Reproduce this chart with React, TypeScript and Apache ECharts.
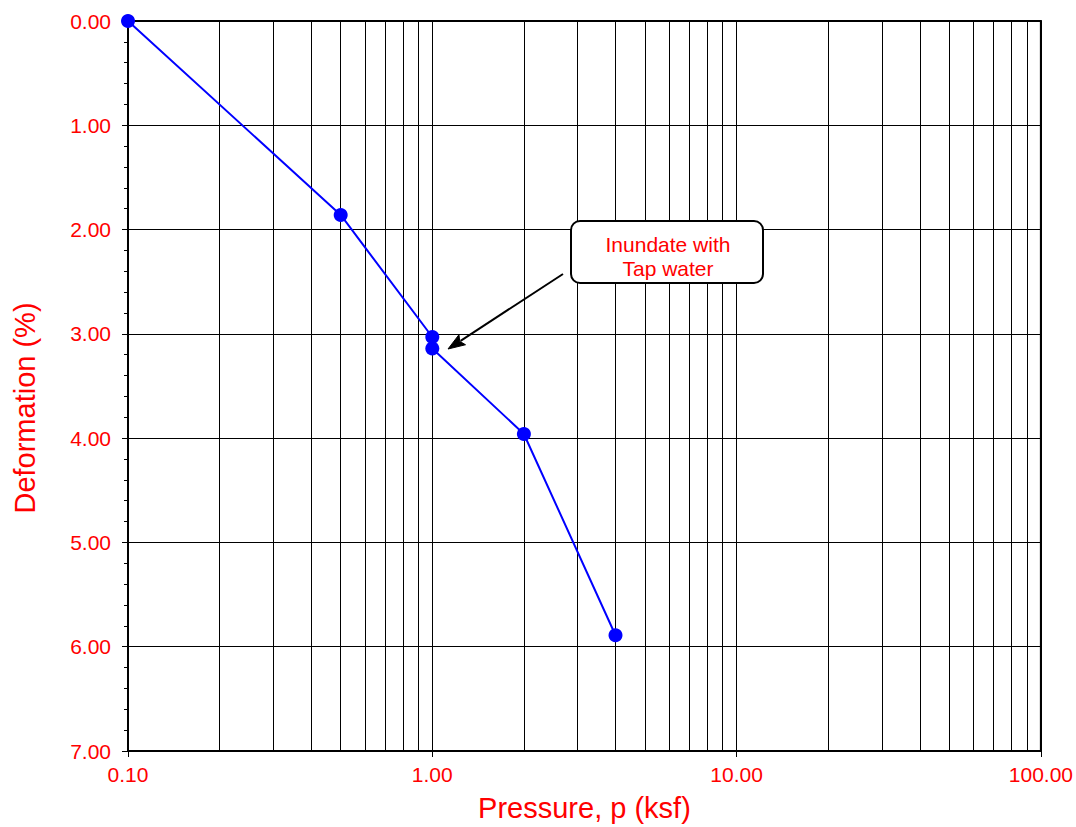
import React, { useEffect, useRef } from "react";
import * as echarts from "echarts";

// Consolidation test: pressure (ksf) vs deformation (%)
const pressure = [0.1, 0.5, 1.0, 1.0, 2.0, 4.0];
const deformation = [0.0, 1.86, 3.03, 3.14, 3.96, 5.89];

// Intermediate log-grid lines (2..9 within each decade)
const minorPressures = [
  0.2, 0.3, 0.4, 0.5, 0.6, 0.7, 0.8, 0.9,
  2, 3, 4, 5, 6, 7, 8, 9,
  20, 30, 40, 50, 60, 70, 80, 90,
];

const noteLines = ["Inundate with", "Tap water"];
const yTitle = "Deformation (%)";

const FONT = "'Liberation Sans', Arial, Helvetica, sans-serif";
const RED = "#ff0000";

export default function App() {
  const ref = useRef<HTMLDivElement>(null);

  useEffect(() => {
    if (!ref.current) return;
    const chart = echarts.init(ref.current, undefined, { renderer: "svg" });

    // Arrow from note box to the inundation point
    const tail = [563, 274];
    const tip = [448, 349];
    const dx = tail[0] - tip[0];
    const dy = tail[1] - tip[1];
    const len = Math.sqrt(dx * dx + dy * dy);
    const ux = dx / len;
    const uy = dy / len;
    const headLen = 17;
    const headW = 6;
    const bx = tip[0] + ux * headLen;
    const by = tip[1] + uy * headLen;
    const px = -uy;
    const py = ux;

    chart.setOption({
      animation: false,
      backgroundColor: "#ffffff",
      textStyle: { fontFamily: FONT },
      grid: {
        left: 128,
        right: 34,
        top: 21,
        bottom: 75,
        show: true,
        borderColor: "#000",
        borderWidth: 2,
        backgroundColor: "transparent",
      },
      xAxis: {
        type: "log",
        logBase: 10,
        min: 0.1,
        max: 100,
        name: "Pressure, p (ksf)",
        nameLocation: "middle",
        nameGap: 42,
        nameTextStyle: { color: RED, fontSize: 29, fontFamily: FONT },
        axisLine: { show: true, onZero: false, lineStyle: { color: "#000", width: 2 } },
        axisTick: { show: true, inside: false, length: 6, lineStyle: { color: "#000", width: 1 } },
        axisLabel: {
          color: RED,
          fontSize: 21,
          fontFamily: FONT,
          margin: 13,
          formatter: (v: number) => v.toFixed(2),
        },
        splitLine: { show: true, lineStyle: { color: "#000", width: 1 } },
      },
      yAxis: {
        type: "value",
        inverse: true,
        min: 0,
        max: 7,
        interval: 1,
        axisLine: { show: true, lineStyle: { color: "#000", width: 2 } },
        axisTick: { show: true, inside: false, length: 6, lineStyle: { color: "#000", width: 1 } },
        minorTick: { show: true, splitNumber: 5, length: 4, lineStyle: { color: "#000", width: 1 } },
        minorSplitLine: { show: false },
        axisLabel: {
          color: RED,
          fontSize: 21,
          fontFamily: FONT,
          margin: 17,
          formatter: (v: number) => v.toFixed(2),
        },
        splitLine: { show: true, lineStyle: { color: "#000", width: 1 } },
      },
      series: [
        {
          type: "line",
          data: pressure.map((p, i) => [p, deformation[i]]),
          symbol: "circle",
          symbolSize: 14,
          showSymbol: true,
          itemStyle: { color: "#0000ff" },
          lineStyle: { color: "#0000ff", width: 2 },
          z: 5,
          markLine: {
            silent: true,
            symbol: "none",
            label: { show: false },
            lineStyle: { color: "#000", width: 1, type: "solid" },
            data: minorPressures.map((v) => ({ xAxis: v })),
            z: 1,
          },
        },
      ],
      graphic: [
        {
          type: "text",
          z: 101,
          x: 25,
          y: 408,
          rotation: Math.PI / 2,
          style: {
            text: yTitle,
            fill: RED,
            font: `29px ${FONT}`,
            textAlign: "center",
            textVerticalAlign: "middle",
          },
        },
        {
          type: "rect",
          z: 100,
          shape: { x: 571, y: 221, width: 192, height: 62, r: 9 },
          style: { fill: "#ffffff", stroke: "#000", lineWidth: 2 },
        },
        {
          type: "text",
          z: 101,
          x: 668,
          y: 244,
          style: {
            text: noteLines[0],
            fill: RED,
            font: `21px ${FONT}`,
            textAlign: "center",
            textVerticalAlign: "middle",
          },
        },
        {
          type: "text",
          z: 101,
          x: 668,
          y: 268,
          style: {
            text: noteLines[1],
            fill: RED,
            font: `21px ${FONT}`,
            textAlign: "center",
            textVerticalAlign: "middle",
          },
        },
        {
          type: "line",
          z: 100,
          shape: { x1: tail[0], y1: tail[1], x2: bx - ux * 2, y2: by - uy * 2 },
          style: { stroke: "#000", lineWidth: 2 },
        },
        {
          type: "polygon",
          z: 100,
          shape: {
            points: [
              [tip[0], tip[1]],
              [bx + px * headW, by + py * headW],
              [bx - ux * 3, by - uy * 3],
              [bx - px * headW, by - py * headW],
            ],
          },
          style: { fill: "#000", stroke: "#000", lineWidth: 1 },
        },
      ],
    });

    return () => chart.dispose();
  }, []);

  return (
    <div
      ref={ref}
      style={{ position: "absolute", left: 0, top: 0, width: 1076, height: 827 }}
    />
  );
}
